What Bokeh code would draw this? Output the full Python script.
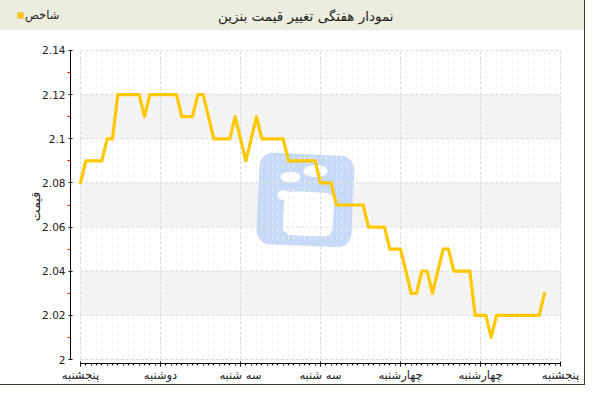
from bokeh.plotting import figure
from bokeh.models import Range1d, FixedTicker, Div
from bokeh.layouts import column
from bokeh.embed import file_html
from bokeh.resources import INLINE
import numpy as np

# ---------------- data ----------------
title_text = "نمودار هفتگی تغییر قیمت بنزین"
series_name = "شاخص"
y_axis_title = "قیمت"
day_labels = ["پنجشنبه", "دوشنبه", "سه شنبه", "سه شنبه", "چهارشنبه", "چهارشنبه", "پنجشنبه"]
points_per_day = 15
price = [
    2.08, 2.09, 2.09, 2.09, 2.09, 2.10, 2.10, 2.12, 2.12, 2.12,
    2.12, 2.12, 2.11, 2.12, 2.12, 2.12, 2.12, 2.12, 2.12, 2.11,
    2.11, 2.11, 2.12, 2.12, 2.11, 2.10, 2.10, 2.10, 2.10, 2.11,
    2.10, 2.09, 2.10, 2.11, 2.10, 2.10, 2.10, 2.10, 2.10, 2.09,
    2.09, 2.09, 2.09, 2.09, 2.09, 2.08, 2.08, 2.08, 2.07, 2.07,
    2.07, 2.07, 2.07, 2.07, 2.06, 2.06, 2.06, 2.06, 2.05, 2.05,
    2.05, 2.04, 2.03, 2.03, 2.04, 2.04, 2.03, 2.04, 2.05, 2.05,
    2.04, 2.04, 2.04, 2.04, 2.02, 2.02, 2.02, 2.01, 2.02, 2.02,
    2.02, 2.02, 2.02, 2.02, 2.02, 2.02, 2.02, 2.03,
]
y_ticks = [2.00, 2.02, 2.04, 2.06, 2.08, 2.10, 2.12, 2.14]
y_minor_ticks = [2.01, 2.03, 2.05, 2.07, 2.09, 2.11, 2.13]
band_bottoms = [2.02, 2.06, 2.10]
band_tops = [2.04, 2.08, 2.12]

# ---------------- styles ----------------
FONT = "DejaVu Sans"
LINE_COLOR = "#ffc800"
HEADER_BG = "#ececdf"
HEADER_H = 30
FRAME_LEFT, FRAME_RIGHT = 70, 561
FRAME_BOTTOM_PX = 364  # where Bokeh puts the frame bottom (page px)

x_idx = list(range(len(price)))
x_ticks = [i * points_per_day for i in range(len(day_labels))]
x_max = x_ticks[-1]
x_minor = list(range(0, x_max + 1))

# pixel -> data helpers (frame: x 0..x_max over 480px, y 2.0..2.14 over 310px)
PX_PER_X = 480.0 / x_max
PX_PER_Y = 310.0 / (y_ticks[-1] - y_ticks[0])


def to_data(px, py):
    return (np.asarray(px) - 80.0) / PX_PER_X, y_ticks[0] + (360.0 - np.asarray(py)) / PX_PER_Y


def rounded_rect(cx, cy, w, h, r, ang_deg, n=10):
    pts = []
    corners = [(w / 2 - r, -h / 2 + r, -90, 0), (w / 2 - r, h / 2 - r, 0, 90),
               (-w / 2 + r, h / 2 - r, 90, 180), (-w / 2 + r, -h / 2 + r, 180, 270)]
    for (ox, oy, a0, a1) in corners:
        for a in np.linspace(np.radians(a0), np.radians(a1), n):
            pts.append((ox + r * np.cos(a), oy + r * np.sin(a)))
    pts = np.array(pts)
    t = np.radians(ang_deg)
    xr = pts[:, 0] * np.cos(t) - pts[:, 1] * np.sin(t) + cx
    yr = pts[:, 0] * np.sin(t) + pts[:, 1] * np.cos(t) + cy
    return to_data(xr, yr)


def ellipse_poly(cx, cy, w, h, n=30):
    a = np.linspace(0, 2 * np.pi, n)
    return to_data(cx + w / 2 * np.cos(a), cy + h / 2 * np.sin(a))


# ---------------- header (title + legend) ----------------
header_html = (
    f'<div style="position:relative;width:584px;height:{HEADER_H}px;background:{HEADER_BG};'
    f'font-family:\'{FONT}\';color:#222222;overflow:hidden;">'
    f'<span style="position:absolute;left:17.5px;top:13px;width:5px;height:5px;'
    f'background:{LINE_COLOR};box-shadow:0 0 0 0.5px #e0b000;"></span>'
    f'<span style="position:absolute;left:25px;top:7px;font-size:11.5px;line-height:16px;'
    f'white-space:nowrap;">{series_name}</span>'
    f'<span style="position:absolute;left:218px;top:6.5px;font-size:13.5px;line-height:18px;'
    f'white-space:nowrap;">{title_text}</span>'
    f'</div>'
)
header = Div(text=header_html, width=584, height=HEADER_H, margin=(0, 0, 0, 0))

# ---------------- main chart ----------------
x0 = -(80.0 - FRAME_LEFT) / PX_PER_X
x1 = x_max + (FRAME_RIGHT - 560.0) / PX_PER_X
y0 = y_ticks[0] - (FRAME_BOTTOM_PX - 360.0) / PX_PER_Y
y1 = y_ticks[-1] + 1.0 / PX_PER_Y

p = figure(width=584, height=384 - HEADER_H, x_range=Range1d(x0, x1), y_range=Range1d(y0, y1),
           toolbar_location=None, output_backend="svg",
           min_border_left=FRAME_LEFT, min_border_right=584 - FRAME_RIGHT,
           min_border_top=49 - HEADER_H, min_border_bottom=15,
           background_fill_color="white", border_fill_color="white", outline_line_color=None)
p.xgrid.visible = False
p.ygrid.visible = False

# alternating bands
p.quad(left=x_ticks[0], right=x_max, bottom=band_bottoms, top=band_tops,
       fill_color="#f4f4f4", line_color=None)

# watermark logo
bx, by = rounded_rect(305, 200, 95, 92, 14, 2.6)
p.patch(bx, by, fill_color="#c6d9f6", line_color=None)
shapes = [ellipse_poly(290, 177, 20, 11), ellipse_poly(315, 171, 24, 12),
          ellipse_poly(283, 195, 12, 10), rounded_rect(308, 214, 50, 44, 9, 2.6)]
p.patches([list(s[0]) for s in shapes], [list(s[1]) for s in shapes],
          fill_color="white", line_color=None)

# minor vertical grid
mx = [v for v in x_minor if v not in x_ticks]
p.segment(x0=mx, y0=[y_ticks[0]] * len(mx), x1=mx, y1=[y_ticks[-1]] * len(mx),
          line_color="#ededed", line_width=1, line_dash="3 5")
# major grid
p.segment(x0=x_ticks, y0=[y_ticks[0]] * len(x_ticks), x1=x_ticks, y1=[y_ticks[-1]] * len(x_ticks),
          line_color="#d9d9d9", line_width=1, line_dash="3 2")
p.segment(x0=[x_ticks[0]] * len(y_ticks), y0=y_ticks, x1=[x_max] * len(y_ticks), y1=y_ticks,
          line_color="#d9d9d9", line_width=1, line_dash="3 2")

# data line
p.line(x_idx, price, line_color=LINE_COLOR, line_width=3.2, line_join="round", line_cap="round")

# axes
xa = p.xaxis[0]
xa.ticker = FixedTicker(ticks=x_ticks, minor_ticks=x_minor)
xa.major_label_overrides = {t: lab for t, lab in zip(x_ticks, day_labels)}
xa.bounds = (x_ticks[0], x_max)
xa.axis_line_color = "black"
xa.major_tick_line_color = "black"
xa.minor_tick_line_color = "black"
xa.major_tick_in = 2
xa.major_tick_out = 3
xa.minor_tick_in = 0
xa.minor_tick_out = 2
xa.major_label_standoff = 1
xa.major_label_text_font = FONT
xa.major_label_text_font_size = "11.5px"
xa.major_label_text_color = "#222222"

ya = p.yaxis[0]
ya.ticker = FixedTicker(ticks=y_ticks, minor_ticks=y_minor_ticks)
ya.major_label_overrides = {t: f"{t:g}" for t in y_ticks}
ya.bounds = (y_ticks[0], y_ticks[-1])
ya.axis_line_color = "black"
ya.major_tick_line_color = "black"
ya.minor_tick_line_color = "#e00000"
ya.major_tick_in = 2
ya.major_tick_out = 2
ya.minor_tick_in = 0
ya.minor_tick_out = 3
ya.major_label_standoff = 2
ya.major_label_text_font = FONT
ya.major_label_text_font_size = "10.5px"
ya.major_label_text_color = "#222222"
ya.axis_label = y_axis_title
ya.axis_label_text_font = FONT
ya.axis_label_text_font_size = "12.5px"
ya.axis_label_text_font_style = "normal"
ya.axis_label_text_color = "#222222"
ya.axis_label_standoff = -4

layout = column(header, p, styles={"outline": "1px solid #3a3a30"})

open("out.html", "w").write(file_html(layout, INLINE))
